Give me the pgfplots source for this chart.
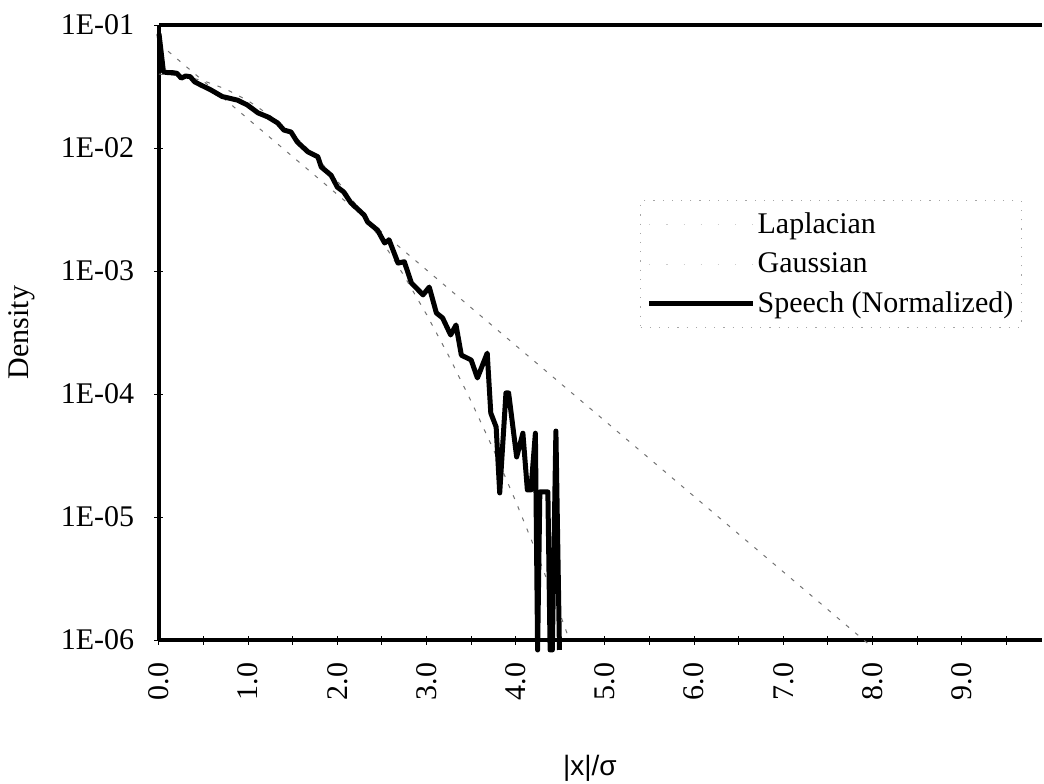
\documentclass[border=0pt]{standalone}
\usepackage{fontspec}
\setmainfont{Liberation Serif}
\newfontfamily\sansf{Liberation Sans}
\usepackage{pgfplots}
\pgfplotsset{compat=1.18}
\pgfplotstableread{
x y
0.00 0.0707
1.00 0.0172
2.00 0.00419
3.00 0.00102
4.00 0.000248
5.00 6.04e-5
6.00 1.47e-5
7.00 3.58e-6
8.00 8.7e-7
}\laplace
\pgfplotstableread{
x y
0.00 0.0399
0.25 0.03867
0.50 0.03521
0.75 0.03012
1.00 0.02420
1.25 0.01827
1.50 0.01296
1.75 0.00863
2.00 0.00540
2.25 0.003174
2.50 0.001753
2.75 0.000909
3.00 0.000443
3.25 0.000203
3.50 8.73e-5
3.75 3.53e-5
4.00 1.339e-5
4.25 4.78e-6
4.50 1.60e-6
4.60 1.01e-6
}\gauss
\pgfplotstableread{
x y
0.00 0.085
0.05 0.0415
0.10 0.0410
0.15 0.0410
0.20 0.0405
0.25 0.0370
0.30 0.0385
0.35 0.0380
0.40 0.0345
0.47 0.0325
0.58 0.0297
0.71 0.0262
0.78 0.0255
0.88 0.0245
0.99 0.0224
1.11 0.0193
1.22 0.0179
1.33 0.0160
1.40 0.0140
1.48 0.0135
1.55 0.0112
1.67 0.0093
1.78 0.0085
1.82 0.0070
1.93 0.0060
2.00 0.0048
2.07 0.0044
2.15 0.0036
2.30 0.00285
2.34 0.0025
2.45 0.00215
2.53 0.00169
2.58 0.00179
2.68 0.00116
2.75 0.00119
2.83 0.00080
2.96 0.00064
3.03 0.00074
3.11 0.000456
3.18 0.000415
3.27 0.000302
3.33 0.000364
3.39 0.000207
3.50 0.000189
3.57 0.000135
3.68 0.000215
3.72 7.0e-5
3.78 5.4e-5
3.82 1.57e-5
3.89 1.02e-4
3.92 1.02e-4
4.01 3.08e-5
4.08 4.8e-5
4.13 1.66e-5
4.17 1.66e-5
4.22 4.8e-5
4.245 8.3e-7
4.27 1.6e-5
4.36 1.6e-5
4.385 8.3e-7
4.41 8.3e-7
4.45 5.0e-5
4.49 8.3e-7
}\speech
\begin{document}
\begin{tikzpicture}
\path[use as bounding box] (-79.5pt,-71.5pt) rectangle (442.5pt,320pt);
\begin{axis}[
  at={(0,0)}, anchor=south west,
  scale only axis, width=441.5pt, height=307.5pt,
  ymode=log, xmin=0, xmax=9.9, ymin=1e-6, ymax=1e-1,
  clip=false,
  axis x line*=bottom, axis y line*=left,
  axis line style={line width=1.7pt, -},
  xtick={0,1,2,3,4,5,6,7,8,9},
  xticklabels={0.0,1.0,2.0,3.0,4.0,5.0,6.0,7.0,8.0,9.0},
  minor xtick={0.5,1.5,2.5,3.5,4.5,5.5,6.5,7.5,8.5,9.5},
  ytick={1e-6,1e-5,1e-4,1e-3,1e-2,1e-1},
  yticklabels={1E-06,1E-05,1E-04,1E-03,1E-02,1E-01},
  yminorticks=false,
  tick align=center, major tick length=4.5pt, minor tick length=4.5pt,
  tick style={black, line width=0.5pt},
  xticklabel style={rotate=90, anchor=east, inner sep=0pt, font=\fontsize{15}{18}\selectfont},
  yticklabel style={anchor=east, inner sep=0pt, font=\fontsize{15}{18}\selectfont},
  xticklabel shift=9pt, yticklabel shift=10pt,
  xlabel={|x|/σ}, ylabel={Density},
  every axis x label/.style={at={(axis description cs:0.488,0)}, yshift=-64pt, anchor=center, font=\sansf\fontsize{14}{16}\selectfont},
  every axis y label/.style={at={(axis description cs:0,0.5)}, xshift=-68.5pt, rotate=90, anchor=center, font=\fontsize{15}{18}\selectfont},
  legend style={at={(0.545,0.715)}, anchor=north west, draw=black!35, line width=0.4pt,
    dash pattern=on 0.6pt off 4pt, fill=none,
    font=\fontsize{15}{18}\selectfont, inner xsep=3pt, inner ysep=4pt, row sep=4pt,
    cells={anchor=west}, nodes={inner xsep=1pt, inner ysep=2pt}},
  legend image code/.code={\draw[#1] (0pt,0pt) -- (52pt,0pt);},
]
\addplot[black!55, line width=0.5pt, dash pattern=on 2pt off 4pt,
  legend image code/.code={\draw[black!20, line width=0.4pt, dash pattern=on 0.6pt off 8pt] (0pt,0pt) -- (52pt,0pt);}]
  table[x=x,y=y] {\laplace};
\addlegendentry{Laplacian}
\addplot[black!55, line width=0.5pt, dash pattern=on 2pt off 4pt,
  legend image code/.code={\draw[black!20, line width=0.4pt, dash pattern=on 0.6pt off 8pt] (0pt,0pt) -- (52pt,0pt);}]
  table[x=x,y=y] {\gauss};
\addlegendentry{Gaussian}
\addplot[black, line width=2.5pt, solid, line join=round] table[x=x,y=y] {\speech};
\addlegendentry{Speech (Normalized)}
\draw[line width=1.7pt] (rel axis cs:0,1) -- (rel axis cs:1,1);
\end{axis}
\end{tikzpicture}
\end{document}
